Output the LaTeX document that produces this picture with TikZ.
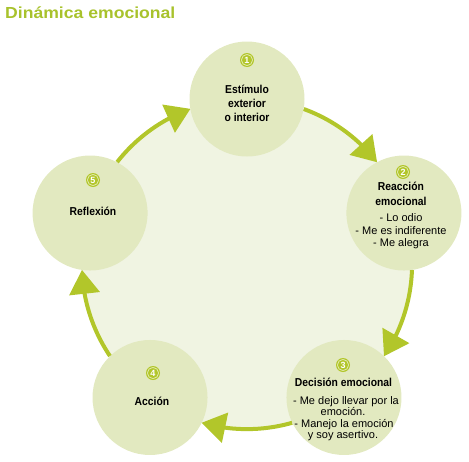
\documentclass[tikz,border=0pt]{standalone}
\usepackage{fontspec}
\setmainfont{Liberation Sans}
\newfontfamily\condfont[FakeStretch=0.9]{Liberation Sans}
\newfontfamily\titlefont[FakeStretch=1.1]{Liberation Sans}
\usetikzlibrary{arrows.meta,bending}
\definecolor{leaf}{HTML}{B2C62A}
\definecolor{titlegreen}{HTML}{A8C22C}
\definecolor{bubblefill}{HTML}{E2E9C0}
\definecolor{bgfill}{HTML}{F0F4E2}
\begin{document}
\begin{tikzpicture}[x=1pt,y=1pt,
  bubble/.style={circle, fill=bubblefill, minimum size=115pt, inner sep=0pt},
  badge/.style={circle, fill=leaf, minimum size=14pt, inner sep=0pt, text=white,
    font=\bfseries\fontsize{9}{9}\selectfont},
  ring/.style={draw=white!60!leaf, line width=0.8pt},
  head/.style={anchor=base, inner sep=0pt, font=\condfont\bfseries\fontsize{11.5}{14}\selectfont},
  body/.style={anchor=base, inner sep=0pt, font=\fontsize{11}{12}\selectfont},
  cyc/.style={draw=leaf, line width=4pt, -{Triangle[length=24pt,width=30pt]}}
]
\path[use as bounding box] (0,0) rectangle (469,-461);
\node[anchor=base west, inner sep=0pt, text=titlegreen, font=\titlefont\bfseries\fontsize{16}{16}\selectfont] (title) at (5,-18.5) {Dinámica emocional};
\coordinate (c) at (247,-264);
\fill[bgfill] (c) circle[radius=165];
\node[bubble] (n1) at ([shift={(90:165)}]c) {};
\node[bubble] (n2) at ([shift={(18:165)}]c) {};
\node[bubble] (n3) at ([shift={(-54:165)}]c) {};
\node[bubble] (n4) at ([shift={(-126:165)}]c) {};
\node[bubble] (n5) at ([shift={(162:165)}]c) {};
\draw[cyc] (n1.-10) arc[start angle=69.93, end angle=38.07, radius=165];
\draw[cyc] (n2.-82) arc[start angle=-2.07, end angle=-33.93, radius=165];
\draw[cyc] (n3.-154) arc[start angle=-74.07, end angle=-105.93, radius=165];
\draw[cyc] (n4.134) arc[start angle=-146.07, end angle=-177.93, radius=165];
\draw[cyc] (n5.62) arc[start angle=141.93, end angle=110.07, radius=165];
% badges
\node[badge] (b1) at (247,-60) {1};
\node[badge] (b2) at (403,-172) {2};
\node[badge] (b3) at (343,-365) {3};
\node[badge] (b4) at (153,-373) {4};
\node[badge] (b5) at (93,-180) {5};
\foreach \b in {b1,b2,b3,b4,b5} \draw[ring] (\b.center) circle[radius=5.6pt];
% texts
\node[head] (t1a) at (247,-93) {Estímulo};
\node[head] (t1b) at (247,-107.5) {exterior};
\node[head] (t1c) at (247,-121.7) {o interior};
\node[head] (t2a) at (401,-190.7) {Reacción};
\node[head] (t2b) at (401,-205) {emocional};
\node[body] (t2c) at (401,-221.7) {- Lo odio};
\node[body] (t2d) at (401,-234) {- Me es indiferente};
\node[body] (t2e) at (401,-246) {- Me alegra};
\node[head] (t3a) at (343.5,-386.7) {Decisión emocional};
\node[body] (t3b) at (346,-404) {- Me dejo llevar por la};
\node[body] (t3c) at (343,-415.5) {emoción.};
\node[body] (t3d) at (344,-427.3) {- Manejo la emoción};
\node[body] (t3e) at (343,-438.5) {y soy asertivo.};
\node[head] (t4) at (152,-405) {Acción};
\node[head] (t5) at (93,-215.7) {Reflexión};
\end{tikzpicture}
\end{document}
